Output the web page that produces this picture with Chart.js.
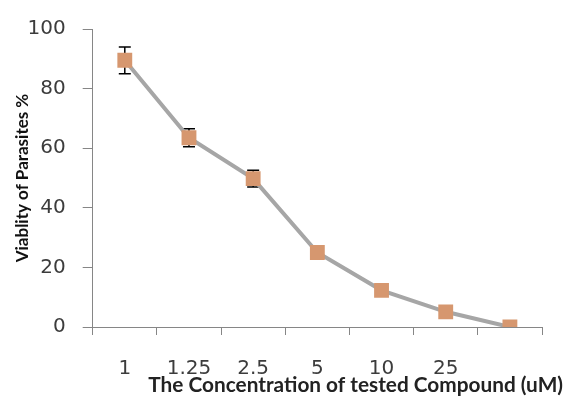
<!DOCTYPE html>
<html>
<head>
<meta charset="utf-8">
<script src="https://cdn.jsdelivr.net/npm/chart.js@4"></script>
<style>
    body { margin: 0; background: #fff; }
    #wrap { width: 565px; height: 397px; }
</style>
</head>
<body>
<div id="wrap"><canvas id="chart" width="565" height="397"></canvas></div>
<script>
// Chart data
const concentrations = ['1', '1.25', '2.5', '5', '10', '25', ''];
const viability = [89.5, 63.5, 49.8, 25, 12.3, 5.1, 0];
const viabilityErr = [4.5, 3, 2.8, 0.8, 0.8, 0.5, 0];
const yTicks = [0, 20, 40, 60, 80, 100];

const axisGray = '#868686';
const textColor = '#3c3c3c';

// Draws the vertical error bars under the markers
const errorBars = {
    id: 'errorBars',
    beforeDatasetsDraw(chart) {
        const ctx = chart.ctx;
        const x = chart.scales.x;
        const y = chart.scales.y;
        ctx.save();
        ctx.strokeStyle = '#000';
        ctx.lineWidth = 1.5;
        viability.forEach((v, i) => {
            const e = viabilityErr[i];
            if (!e) return;
            const px = x.getPixelForValue(i);
            const top = y.getPixelForValue(v + e);
            const bot = y.getPixelForValue(v - e);
            ctx.beginPath();
            ctx.moveTo(px, top); ctx.lineTo(px, bot);
            ctx.moveTo(px - 6, top); ctx.lineTo(px + 6, top);
            ctx.moveTo(px - 6, bot); ctx.lineTo(px + 6, bot);
            ctx.stroke();
        });
        ctx.restore();
    }
};

// X axis title sits right of centre in the original, so it is drawn here
const xTitle = {
    id: 'xTitle',
    afterDraw(chart) {
        const ctx = chart.ctx;
        ctx.save();
        ctx.font = 'bold 20.8px Lato';
        ctx.fillStyle = '#222';
        ctx.textAlign = 'right';
        ctx.textBaseline = 'middle';
        ctx.fillText('The Concentration of tested Compound (uM)', 563, 385);
        ctx.restore();
    }
};

new Chart(document.getElementById('chart'), {
    type: 'line',
    data: {
        labels: concentrations,
        datasets: [{
            data: viability,
            borderColor: '#a6a6a6',
            borderWidth: 4,
            tension: 0,
            pointStyle: 'rect',
            pointRadius: 10.5,
            pointHoverRadius: 10.5,
            pointBackgroundColor: '#d6976f',
            pointBorderColor: '#d6976f',
            pointBorderWidth: 0
        }]
    },
    options: {
        responsive: false,
        animation: false,
        events: [],
        layout: { padding: { top: 27, right: 23, bottom: 0, left: 0 } },
        plugins: {
            legend: { display: false },
            tooltip: { enabled: false }
        },
        scales: {
            x: {
                offset: true,
                grid: {
                    offset: true,
                    drawOnChartArea: false,
                    color: axisGray,
                    tickLength: 8
                },
                border: { color: axisGray, width: 1 },
                ticks: {
                    color: textColor,
                    font: { family: 'DejaVu Sans', size: 20 },
                    padding: 22,
                    maxRotation: 0,
                    autoSkip: false
                },
                afterFit(scale) { scale.height = 70; }
            },
            y: {
                min: 0,
                max: 100,
                afterBuildTicks(scale) { scale.ticks = yTicks.map(v => ({ value: v })); },
                grid: {
                    drawOnChartArea: false,
                    color: axisGray,
                    tickLength: 10
                },
                border: { color: axisGray, width: 1 },
                ticks: {
                    color: textColor,
                    font: { family: 'DejaVu Sans', size: 20 },
                    padding: 17
                },
                title: {
                    display: true,
                    text: 'Viablity of Parasites %',
                    color: '#111',
                    font: { family: 'Lato', size: 17, weight: 'bold' },
                    padding: { top: 12, bottom: 0 }
                },
                afterFit(scale) { scale.width = 92.7; }
            }
        }
    },
    plugins: [errorBars, xTitle]
});
</script>
</body>
</html>
